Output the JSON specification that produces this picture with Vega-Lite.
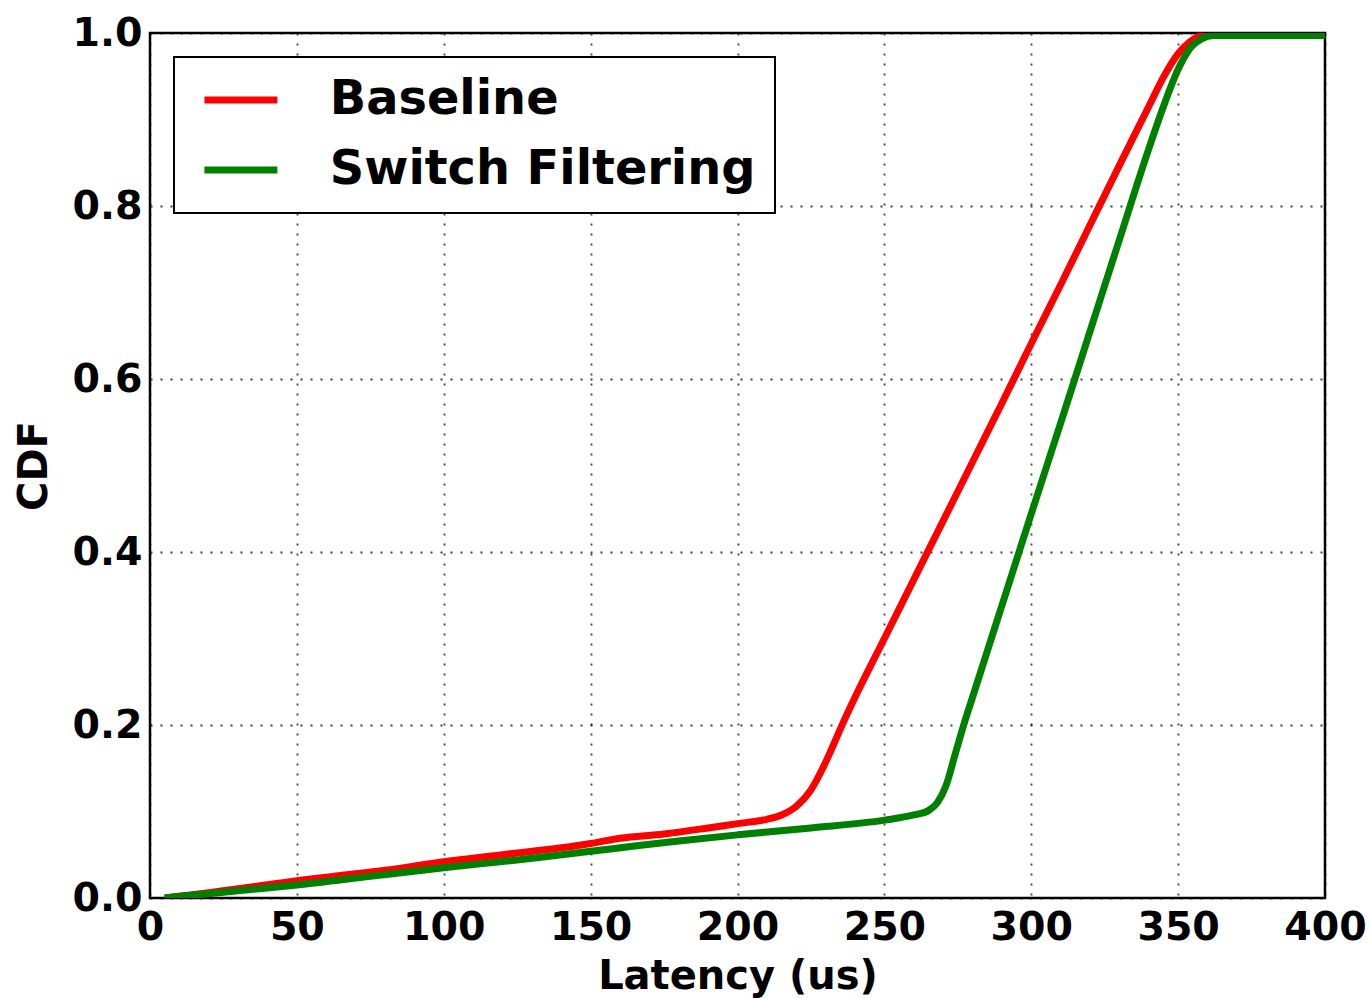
{
  "$schema": "https://vega.github.io/schema/vega-lite/v6.json",
  "autosize": "none",
  "width": 1175,
  "height": 865,
  "padding": {"left": 150, "top": 33, "right": 45, "bottom": 100},
  "background": "white",
  "config": {
    "view": {"stroke": "black", "strokeWidth": 2.5},
    "font": "DejaVu Sans",
    "axis": {
      "domain": false,
      "grid": true,
      "gridColor": "#000000",
      "gridDash": [2, 8],
      "gridWidth": 1.8,
      "gridOpacity": 0.75,
      "labelFont": "DejaVu Sans",
      "labelFontSize": 39.5,
      "labelFontWeight": "bold",
      "labelColor": "black",
      "labelFlush": false,
      "labelOverlap": false,
      "titleFont": "DejaVu Sans",
      "titleFontSize": 40,
      "titleFontWeight": "bold",
      "titleColor": "black",
      "tickColor": "#333333",
      "tickSize": 0
    },
    "legend": {
      "orient": "none",
      "legendX": 24,
      "legendY": 24,
      "strokeColor": "black",
      "strokeWidth": 2,
      "fillColor": "white",
      "cornerRadius": 0,
      "padding": 19,
      "symbolType": "M-2,0H2",
      "symbolStrokeWidth": 7,
      "symbolSize": 1332,
      "symbolOffset": 24,
      "labelFont": "DejaVu Sans",
      "labelFontSize": 47.8,
      "labelFontWeight": "bold",
      "labelColor": "black",
      "labelOffset": 65,
      "rowPadding": 21,
      "labelLimit": 1000
    }
  },
  "data": {
    "values": [
      {"series": "Baseline", "latency": 5, "cdf": 0},
      {"series": "Baseline", "latency": 20, "cdf": 0.006},
      {"series": "Baseline", "latency": 35, "cdf": 0.013},
      {"series": "Baseline", "latency": 50, "cdf": 0.02},
      {"series": "Baseline", "latency": 65, "cdf": 0.026},
      {"series": "Baseline", "latency": 80, "cdf": 0.032},
      {"series": "Baseline", "latency": 100, "cdf": 0.042},
      {"series": "Baseline", "latency": 120, "cdf": 0.05},
      {"series": "Baseline", "latency": 140, "cdf": 0.058},
      {"series": "Baseline", "latency": 150, "cdf": 0.063},
      {"series": "Baseline", "latency": 160, "cdf": 0.069},
      {"series": "Baseline", "latency": 175, "cdf": 0.074},
      {"series": "Baseline", "latency": 190, "cdf": 0.081},
      {"series": "Baseline", "latency": 200, "cdf": 0.086},
      {"series": "Baseline", "latency": 210, "cdf": 0.091},
      {"series": "Baseline", "latency": 215, "cdf": 0.096},
      {"series": "Baseline", "latency": 220, "cdf": 0.106},
      {"series": "Baseline", "latency": 225, "cdf": 0.125},
      {"series": "Baseline", "latency": 229, "cdf": 0.15},
      {"series": "Baseline", "latency": 232, "cdf": 0.172},
      {"series": "Baseline", "latency": 236, "cdf": 0.203},
      {"series": "Baseline", "latency": 240, "cdf": 0.232},
      {"series": "Baseline", "latency": 250, "cdf": 0.3},
      {"series": "Baseline", "latency": 260, "cdf": 0.368},
      {"series": "Baseline", "latency": 270, "cdf": 0.436},
      {"series": "Baseline", "latency": 280, "cdf": 0.504},
      {"series": "Baseline", "latency": 290, "cdf": 0.572},
      {"series": "Baseline", "latency": 300, "cdf": 0.641},
      {"series": "Baseline", "latency": 310, "cdf": 0.709},
      {"series": "Baseline", "latency": 320, "cdf": 0.778},
      {"series": "Baseline", "latency": 330, "cdf": 0.847},
      {"series": "Baseline", "latency": 340, "cdf": 0.915},
      {"series": "Baseline", "latency": 345, "cdf": 0.949},
      {"series": "Baseline", "latency": 350, "cdf": 0.976},
      {"series": "Baseline", "latency": 354, "cdf": 0.99},
      {"series": "Baseline", "latency": 358, "cdf": 0.997},
      {"series": "Baseline", "latency": 400, "cdf": 0.997},
      {"series": "Switch Filtering", "latency": 5, "cdf": 0},
      {"series": "Switch Filtering", "latency": 20, "cdf": 0.005},
      {"series": "Switch Filtering", "latency": 35, "cdf": 0.01},
      {"series": "Switch Filtering", "latency": 50, "cdf": 0.015},
      {"series": "Switch Filtering", "latency": 75, "cdf": 0.025},
      {"series": "Switch Filtering", "latency": 100, "cdf": 0.035},
      {"series": "Switch Filtering", "latency": 125, "cdf": 0.044},
      {"series": "Switch Filtering", "latency": 150, "cdf": 0.054},
      {"series": "Switch Filtering", "latency": 165, "cdf": 0.06},
      {"series": "Switch Filtering", "latency": 180, "cdf": 0.066},
      {"series": "Switch Filtering", "latency": 200, "cdf": 0.073},
      {"series": "Switch Filtering", "latency": 225, "cdf": 0.081},
      {"series": "Switch Filtering", "latency": 250, "cdf": 0.09},
      {"series": "Switch Filtering", "latency": 260, "cdf": 0.096},
      {"series": "Switch Filtering", "latency": 265, "cdf": 0.101},
      {"series": "Switch Filtering", "latency": 268, "cdf": 0.11},
      {"series": "Switch Filtering", "latency": 271, "cdf": 0.13},
      {"series": "Switch Filtering", "latency": 274, "cdf": 0.165},
      {"series": "Switch Filtering", "latency": 277, "cdf": 0.2},
      {"series": "Switch Filtering", "latency": 280, "cdf": 0.232},
      {"series": "Switch Filtering", "latency": 290, "cdf": 0.338},
      {"series": "Switch Filtering", "latency": 300, "cdf": 0.444},
      {"series": "Switch Filtering", "latency": 310, "cdf": 0.549},
      {"series": "Switch Filtering", "latency": 320, "cdf": 0.655},
      {"series": "Switch Filtering", "latency": 330, "cdf": 0.761},
      {"series": "Switch Filtering", "latency": 340, "cdf": 0.866},
      {"series": "Switch Filtering", "latency": 345, "cdf": 0.915},
      {"series": "Switch Filtering", "latency": 350, "cdf": 0.958},
      {"series": "Switch Filtering", "latency": 354, "cdf": 0.982},
      {"series": "Switch Filtering", "latency": 358, "cdf": 0.993},
      {"series": "Switch Filtering", "latency": 362, "cdf": 0.997},
      {"series": "Switch Filtering", "latency": 400, "cdf": 0.997}
    ]
  },
  "mark": {"type": "line", "strokeWidth": 7, "interpolate": "monotone", "clip": true},
  "encoding": {
    "x": {
      "field": "latency",
      "type": "quantitative",
      "scale": {"domain": [0, 400], "nice": false},
      "axis": {"title": "Latency (us)", "values": [0, 50, 100, 150, 200, 250, 300, 350, 400], "format": "d", "labelPadding": 10, "titlePadding": 10}
    },
    "y": {
      "field": "cdf",
      "type": "quantitative",
      "scale": {"domain": [0, 1], "nice": false},
      "axis": {"title": "CDF", "values": [0, 0.2, 0.4, 0.6, 0.8, 1.0], "format": ".1f", "labelPadding": 8, "titlePadding": 18}
    },
    "color": {
      "field": "series",
      "type": "nominal",
      "scale": {"domain": ["Baseline", "Switch Filtering"], "range": ["#ff0000", "#008000"]},
      "legend": {"title": null}
    }
  }
}
